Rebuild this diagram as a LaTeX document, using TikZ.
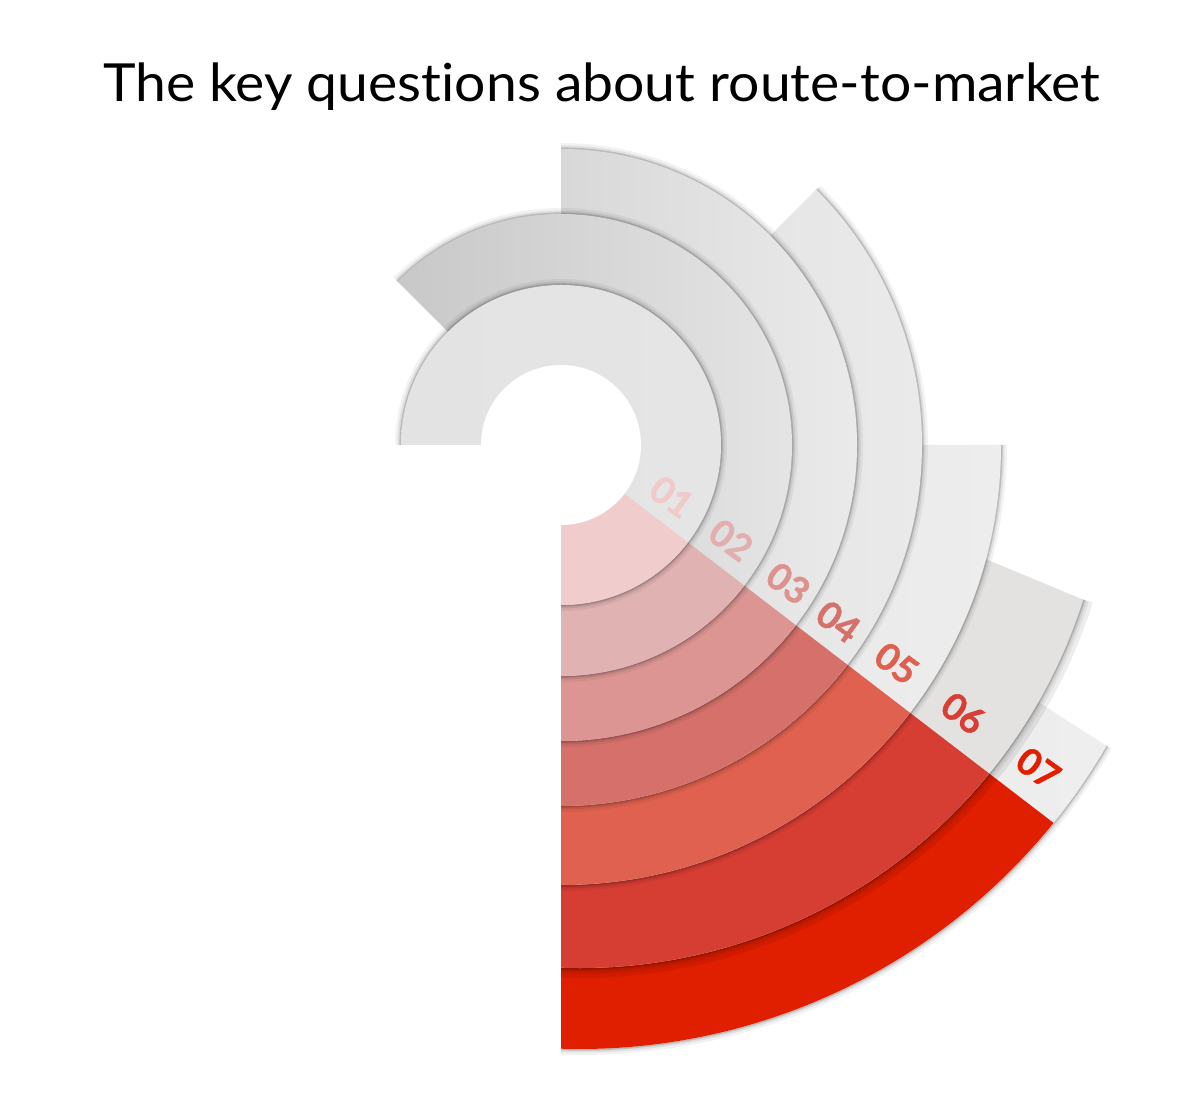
\documentclass[tikz,border=0pt]{standalone}
\usepackage{fontspec}
\setmainfont{Lato}[Ligatures=NoCommon]
\newfontfamily\labelfont{Lato}[Ligatures=NoCommon, BoldFeatures={FakeBold=1.2}]
\usetikzlibrary{calc}
\definecolor{titlecol}{HTML}{222222}
\definecolor{redA}{HTML}{F0CCCC}
\definecolor{redB}{HTML}{E0B2B2}
\definecolor{redC}{HTML}{DC9592}
\definecolor{redD}{HTML}{D5706B}
\definecolor{redE}{HTML}{E06150}
\definecolor{redF}{HTML}{D63D33}
\definecolor{redG}{HTML}{E01E00}
\definecolor{labA}{HTML}{F2C9C9}
\definecolor{labB}{HTML}{E3AEAE}
\definecolor{labC}{HTML}{DE928E}
\definecolor{labD}{HTML}{D6706A}
\definecolor{labE}{HTML}{E05F4F}
\definecolor{labF}{HTML}{D83E34}
\definecolor{labG}{HTML}{E11F00}
\definecolor{grayAl}{HTML}{E3E3E3}
\definecolor{grayAr}{HTML}{E5E5E5}
\definecolor{grayBl}{HTML}{C8C8C8}
\definecolor{grayBr}{HTML}{E6E6E6}
\definecolor{grayCl}{HTML}{D8D8D8}
\definecolor{grayCr}{HTML}{EAEAEA}
\definecolor{grayDl}{HTML}{E0E0E0}
\definecolor{grayDr}{HTML}{EBEBEB}
\definecolor{grayEl}{HTML}{E6E6E6}
\definecolor{grayEr}{HTML}{EDEDED}
\definecolor{grayFl}{HTML}{E2E1DF}
\definecolor{grayFr}{HTML}{E3E2E0}
\definecolor{grayGl}{HTML}{E8E8E8}
\definecolor{grayGr}{HTML}{EEEEEE}
\tikzset{
  shadowwide/.style={draw=black, draw opacity=0.05, line width=12pt},
  shadowmid/.style={draw=black, draw opacity=0.08, line width=7pt},
  shadowthin/.style={draw=black, draw opacity=0.16, line width=3.2pt},
  shadowextra/.style={draw=black, draw opacity=0.07, line width=20pt},
  numlabel/.style={font=\labelfont\fontsize{37}{37}\selectfont\bfseries, rotate=-36, inner sep=0pt},
  titletext/.style={text=titlecol, inner sep=0pt},
}
\newcommand\ringpath[2]{(O) -- ++(#1:#2) arc[start angle=#1, end angle=-90, radius=#2] -- cycle}
\newcommand\ringarc[2]{(O) ++(#1:#2) arc[start angle=#1, end angle=-90, radius=#2]}
\newcommand\redwedge{(O) -- ($(O)+(-37.5:1200)$) |- (561,-600) -- cycle}
\newcommand\drawring[5]{%
  \begin{scope}[shift={(1.5,-2.5)}]
    \path[shadowwide] #2; \path[shadowmid] #2; \path[shadowthin] #2;
  \end{scope}
  \shade[left color=#3, right color=#4] #1;
  \begin{scope}\clip \redwedge; \fill[#5] #1; \end{scope}
}
\newsavebox\titlebox
\begin{document}
\sbox\titlebox{\fontsize{52.5}{60}\selectfont The key questions about route-to-market}%
\begin{tikzpicture}[x=1pt,y=1pt]
\pgfmathsetmacro\titlescale{997/\wd\titlebox}
\useasboundingbox (0,0) rectangle (1200,1100);
\fill[white] (0,0) rectangle (1200,1100);
\node[titletext, anchor=base] (title) at (601.5,998.3) {\scalebox{\titlescale}[1]{\usebox\titlebox}};
\coordinate (O) at (561,655);
\coordinate (C) at (580,660);
\begin{scope}
  \clip (0,1100) -- (1200,1100) -- (1200,0) -- (561,0) -- (561,655) -- (0,655) -- cycle;
  % ring 7
  \drawring{(O) -- (1009,416.8) -- ($(C)+(-30.15:609)$) arc[start angle=-30.15, end angle=-95, radius=609] -- cycle}
           {($(C)+(-30.15:609)$) arc[start angle=-30.15, end angle=-95, radius=609]}
           {grayGl}{grayGr}{redG}
  % ring 6 (deeper shadow onto ring 7)
  \begin{scope}[shift={(2.5,-3.5)}]
    \path[shadowextra] ($(C)+(-17.6:528)$) arc[start angle=-17.6, end angle=-95, radius=528];
  \end{scope}
  \drawring{(O) -- (973.3,546) -- ($(C)+(-17.6:528)$) arc[start angle=-17.6, end angle=-95, radius=528] -- cycle}
           {($(C)+(-17.6:528)$) arc[start angle=-17.6, end angle=-95, radius=528]}
           {grayFl}{grayFr}{redF}
  % rings 5..1
  \drawring{\ringpath{0}{440}}{\ringarc{0}{440}}{grayEl}{grayEr}{redE}
  \drawring{\ringpath{45}{361}}{\ringarc{45}{361}}{grayDl}{grayDr}{redD}
  \drawring{\ringpath{90}{296}}{\ringarc{90}{296}}{grayCl}{grayCr}{redC}
  \drawring{\ringpath{135}{231}}{\ringarc{135}{231}}{grayBl}{grayBr}{redB}
  \drawring{\ringpath{180}{160}}{\ringarc{180}{160}}{grayAl}{grayAr}{redA}
  \fill[white] (O) circle[radius=80];
\end{scope}
\node[numlabel, text=labA] (l1) at (671.7,603.3) {01};
\node[numlabel, text=labB] (l2) at (731,560) {02};
\node[numlabel, text=labC] (l3) at (788.3,516.7) {03};
\node[numlabel, text=labD] (l4) at (838.3,478.3) {04};
\node[numlabel, text=labE] (l5) at (896.7,436.7) {05};
\node[numlabel, text=labF] (l6) at (963.3,386.7) {06};
\node[numlabel, text=labG] (l7) at (1038.3,331.7) {07};
\end{tikzpicture}
\end{document}
